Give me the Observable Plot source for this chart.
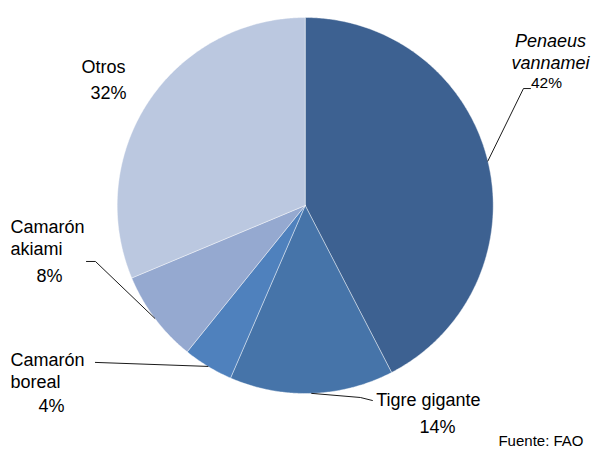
<!DOCTYPE html>
<html>
<head>
<meta charset="utf-8">
<script src="https://cdn.jsdelivr.net/npm/d3@7"></script>
<script src="https://cdn.jsdelivr.net/npm/@observablehq/plot@0.6"></script>
<style>
  html, body { margin: 0; padding: 0; background: #fff; }
  #chart svg { display: block; }
</style>
</head>
<body>
<div id="chart"></div>
<script>
// ---- data ----
const species = ["Penaeus vannamei", "Tigre gigante", "Camarón boreal", "Camarón akiami", "Otros"];
const nameLabels = ["Penaeus\nvannamei", "Tigre gigante", "Camarón\nboreal", "Camarón\nakiami", "Otros"];
const shares = [42.4, 14.1, 4.3, 7.9, 31.3];
const pctLabels = ["42%", "14%", "4%", "8%", "32%"];
const caption = "Fuente: FAO";

// ---- styles ----
const colors = ["#3D6191", "#4674A9", "#4F81BD", "#95A9D0", "#BBC8E0"];
const italic = [true, false, false, false, false];
const pctSize = [15.5, 18, 18, 18, 18];
// label layout: pixel offsets from the slice's mid-arc point
const layout = [
  {leader: [[35.6, -72.5], [42.6, -72.5]], name: [62.6, -110, "middle"], pct: [58.6, -78.5]},
  {leader: [[48.7, 4.1], [60.7, 7.1]], name: [116.7, 5.1, "middle"], pct: [125.7, 34.1]},
  {leader: [[-112.6, -4]], name: [-197.6, 3.5, "start"], pct: [-156.6, 40]},
  {leader: [[-59.4, -56.9], [-68.4, -56.9]], name: [-144.4, -81.4, "start"], pct: [-105.4, -41.9]},
  {leader: [], name: [-45.3, -35.7, "middle"], pct: [-40.3, -7.7]}
];

const R = 188; // pixel radius
const W = 596, H = 451;
const mL = 116.7, mT = 17;
const mR = W - mL - 2 * R, mB = H - mT - 2 * R;

// ---- geometry from data ----
const total = d3.sum(shares);
let acc = 0;
const slices = species.map((s, i) => {
  const a0 = acc / total * 2 * Math.PI;
  acc += shares[i];
  const a1 = acc / total * 2 * Math.PI;
  return {s, i, a0, a1, mid: (a0 + a1) / 2};
});

const polyPts = [];
for (const sl of slices) {
  const n = Math.max(2, Math.ceil((sl.a1 - sl.a0) / (Math.PI / 360)));
  polyPts.push({slice: sl.s, color: colors[sl.i], x: 0, y: 0});
  for (let k = 0; k <= n; k++) {
    const a = sl.a0 + (sl.a1 - sl.a0) * k / n;
    polyPts.push({slice: sl.s, color: colors[sl.i], x: Math.sin(a), y: Math.cos(a)});
  }
  polyPts.push({slice: sl.s, color: colors[sl.i], x: 0, y: 0});
}

const arcPt = sl => [Math.sin(sl.mid), Math.cos(sl.mid)];
const off = (p, o) => [p[0] + o[0] / R, p[1] - o[1] / R];

const leaderPts = [];
slices.forEach((sl, i) => {
  const lay = layout[i];
  if (!lay.leader.length) return;
  const p = arcPt(sl);
  leaderPts.push({slice: sl.s, x: p[0], y: p[1]});
  for (const o of lay.leader) {
    const q = off(p, o);
    leaderPts.push({slice: sl.s, x: q[0], y: q[1]});
  }
});

const nameRecs = slices.map((sl, i) => {
  const q = off(arcPt(sl), layout[i].name);
  return {text: nameLabels[i], x: q[0], y: q[1], anchor: layout[i].name[2], italic: italic[i]};
});
const pctRecs = slices.map((sl, i) => {
  const q = off(arcPt(sl), layout[i].pct);
  return {text: pctLabels[i], x: q[0], y: q[1], size: pctSize[i]};
});

const textMarks = [];
for (const anchor of ["start", "middle"]) {
  for (const it of [true, false]) {
    const recs = nameRecs.filter(d => d.anchor === anchor && d.italic === it);
    if (!recs.length) continue;
    textMarks.push(Plot.text(recs, {
      x: "x", y: "y", text: "text", textAnchor: anchor, lineAnchor: "middle",
      lineHeight: 1.25, fontSize: 18, fontStyle: it ? "italic" : "normal", fill: "#000"
    }));
  }
}
for (const size of [...new Set(pctSize)]) {
  textMarks.push(Plot.text(pctRecs.filter(d => d.size === size), {
    x: "x", y: "y", text: "text", textAnchor: "middle", lineAnchor: "middle",
    fontSize: size, fill: "#000"
  }));
}

const chart = Plot.plot({
  width: W, height: H,
  marginLeft: mL, marginRight: mR, marginTop: mT, marginBottom: mB,
  x: {domain: [-1, 1], axis: null},
  y: {domain: [-1, 1], axis: null},
  color: {type: "identity"},
  style: {fontFamily: "'Liberation Sans', Arial, sans-serif", background: "#fff", overflow: "visible"},
  marks: [
    Plot.line(polyPts, {x: "x", y: "y", z: "slice", fill: "color", stroke: "#ffffff", strokeWidth: 0.6, strokeOpacity: 0.7, curve: "linear"}),
    Plot.line(leaderPts, {x: "x", y: "y", z: "slice", stroke: "#000", strokeWidth: 0.9}),
    ...textMarks,
    Plot.text([caption], {frameAnchor: "bottom-right", textAnchor: "end", lineAnchor: "middle",
      dx: (W - 13) - (W - mR), dy: 441 - (H - mB), fontSize: 15, fill: "#000"})
  ]
});
document.getElementById("chart").appendChild(chart);
</script>
</body>
</html>
